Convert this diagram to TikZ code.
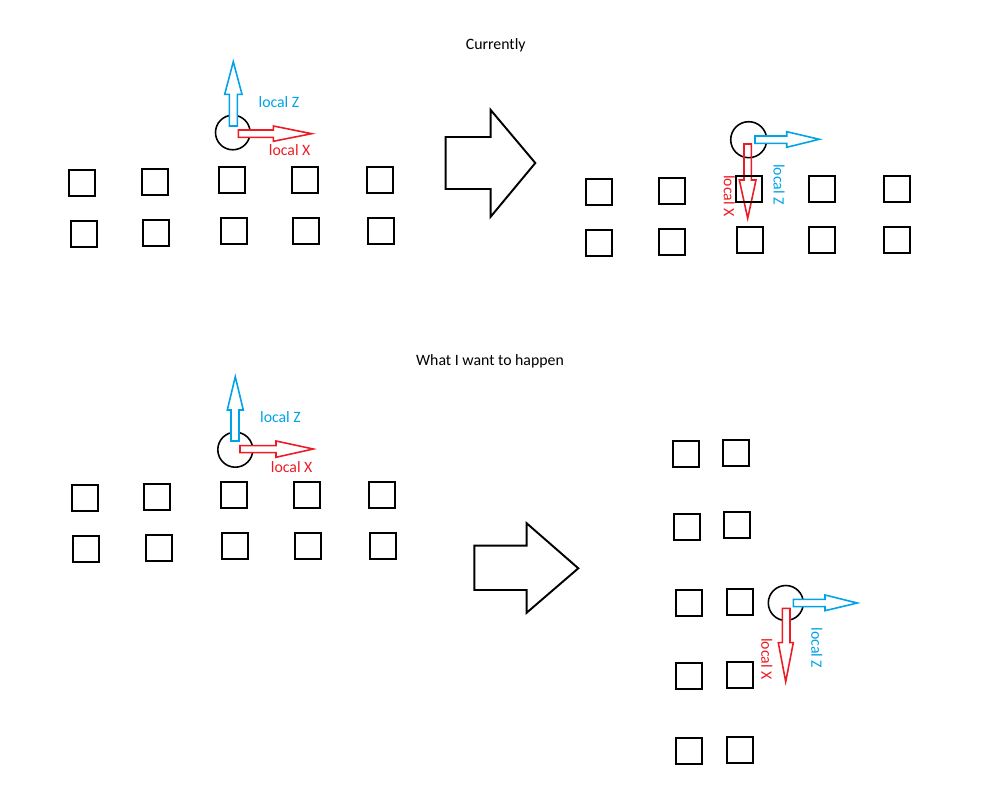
\documentclass[tikz,border=0pt]{standalone}
\usepackage{fontspec}
\setmainfont{Carlito}
\definecolor{pblue}{RGB}{0,162,232}
\definecolor{pred}{RGB}{237,28,36}
\begin{document}
\begin{tikzpicture}[x=0.02cm,y=-0.02cm,
  sq/.style={line width=1.3pt},
  ring/.style={line width=0.9pt},
  bigarrow/.style={line width=1.1pt, line join=miter},
  barrow/.style={draw=pblue, fill=white, line width=0.9pt},
  rarrow/.style={draw=pred, fill=white, line width=0.9pt},
  lbl/.style={font=\fontsize{9}{10}\selectfont, inner sep=0pt},
  bl/.style={lbl, text=pblue},
  rl/.style={lbl, text=pred}]
\useasboundingbox (0,0) rectangle (1000,800);

% titles
\node[lbl] (t1) at (495.7,45) {Currently};
\node[lbl] (t2) at (490,361) {What I want to happen};

% ---------- top left ----------
\draw[ring] (232.8,132.5) circle[radius=17.3];
\draw[barrow] (229.3,126)--(229.3,94.3)--(224.7,94.3)--(233.3,61.7)--(242,94.3)--(237.3,94.3)--(237.3,126)--cycle;
\draw[rarrow] (238.3,130)--(273.3,130)--(273.3,126)--(311.7,133.7)--(273.3,141.3)--(273.3,137.3)--(238.3,137.3)--cycle;
\node[bl] (z1) at (279,101.7) {local Z};
\node[rl] (x1) at (289.7,150.5) {local X};
\foreach \x/\y in {69.3/170, 142.3/169.3, 219.3/167.3, 292.3/167.3, 367.3/167.3,
                   70.7/221.3, 143.3/220.3, 220.7/218.3, 293/218.3, 368.3/218.3}
  \draw[sq] (\x,\y) rectangle +(26,26);

% big arrow top
\draw[bigarrow] (445.7,137)--(490.7,137)--(490.7,110)--(535.3,163)--(490.7,216.7)--(490.7,189)--(445.7,189)--cycle;

% ---------- top right ----------
\draw[ring] (748.7,139.7) circle[radius=18];
\draw[barrow] (755,136)--(786.7,136)--(786.7,131.7)--(819.3,139.3)--(786.7,147.3)--(786.7,143.3)--(755,143.3)--cycle;
\draw[rarrow, fill=none] (744,144)--(744,180)--(739.3,180)--(747.7,218.3)--(756,180)--(751.3,180)--(751.3,144)--cycle;
\node[rl, rotate=-90] (x2) at (729.3,196) {local X};
\node[bl, rotate=-90] (z2) at (779,184.5) {local Z};
\foreach \x/\y in {585.7/178.7, 658.7/177.7, 735.7/175.7, 808.7/175.7, 883.7/175.7,
                   586.3/230, 659.3/228.7, 736.7/226.7, 809.3/226.7, 884.3/226.7}
  \draw[sq] (\x,\y) rectangle +(26,26);

% ---------- bottom left ----------
\draw[ring] (235.3,449.7) circle[radius=17.5];
\draw[barrow] (231,441)--(231,410)--(227.3,410)--(235.3,376.7)--(243.3,410)--(239,410)--(239,441)--cycle;
\draw[rarrow] (240,445.7)--(276,445.7)--(276,441)--(313.3,449)--(276,457.3)--(276,452.7)--(240,452.7)--cycle;
\node[bl] (z3) at (280.5,417) {local Z};
\node[rl] (x3) at (291.7,467) {local X};
\foreach \x/\y in {71.7/485, 144.3/484.3, 221.3/482.3, 294.3/482.3, 369.3/482.3,
                   72.7/536.3, 145.7/535.3, 222.3/533.3, 295.3/533.3, 370.3/533.3}
  \draw[sq] (\x,\y) rectangle +(26,26);

% big arrow bottom
\draw[bigarrow] (474.3,545.7)--(526.7,545.7)--(526.7,523.3)--(578.3,568.3)--(526.7,612.7)--(526.7,590)--(474.3,590)--cycle;

% ---------- bottom right ----------
\draw[ring] (785.8,603) circle[radius=17.5];
\draw[barrow] (793.3,599.3)--(825,599.3)--(825,595)--(857.3,603)--(825,610.7)--(825,606.7)--(793.3,606.7)--cycle;
\draw[rarrow] (782.3,608.3)--(782.3,642.7)--(778.3,642.7)--(785.7,681.7)--(793.3,642.7)--(790,642.7)--(790,608.3)--cycle;
\node[rl, rotate=-90] (x4) at (766.7,659) {local X};
\node[bl, rotate=-90] (z4) at (816.7,648) {local Z};
\foreach \x/\y in {672.7/440.7, 723.3/439.7,
                   673.7/513.7, 724.3/512.3,
                   675.7/590.3, 726.7/589.3,
                   675.7/663.3, 726.7/662,
                   675.7/738.3, 726.7/737}
  \draw[sq] (\x,\y) rectangle +(26,26);
\end{tikzpicture}
\end{document}
